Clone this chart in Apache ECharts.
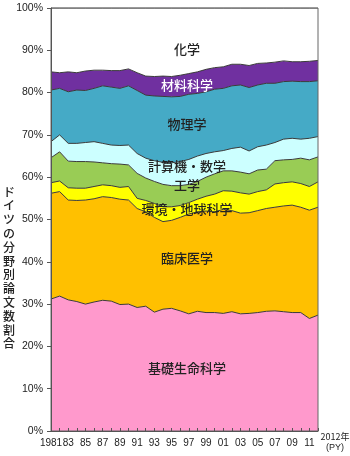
<!DOCTYPE html>
<html>
<head>
<meta charset="utf-8">
<script src="https://cdn.jsdelivr.net/npm/echarts@6/dist/echarts.min.js"></script>
<style>
  html, body { margin: 0; padding: 0; background: #fff; }
  #chart { width: 350px; height: 456px; }
</style>
</head>
<body>
<div id="chart"></div>
<script>
// Publication years (PY)
const years = ['1981','1982','1983','1984','1985','1986','1987','1988','1989','1990',
               '1991','1992','1993','1994','1995','1996','1997','1998','1999','2000',
               '2001','2002','2003','2004','2005','2006','2007','2008','2009','2010',
               '2011','2012'];

// Field shares of German papers (%), stacked from the bottom up
const basicLife   = [31.2,31.9,31.0,30.6,30.0,30.5,30.9,30.7,29.9,30.0,29.2,29.5,28.1,28.8,29.0,28.4,27.7,28.3,28.0,28.0,27.8,28.2,27.7,27.8,28.0,28.3,28.4,28.2,28.0,28.0,26.6,27.4];
const clinical    = [25.0,24.7,23.6,23.9,24.6,24.4,24.5,24.5,24.9,24.6,23.4,22.3,22.4,20.7,20.8,22.1,23.6,23.5,24.0,23.8,24.6,23.9,23.8,23.8,24.1,24.3,24.5,25.0,25.4,24.9,25.6,25.5];
const envEarth    = [2.5,2.5,2.9,2.9,2.8,2.9,2.8,2.8,2.8,3.2,2.4,2.7,3.3,3.5,3.2,2.8,2.7,3.0,3.5,4.2,4.4,4.6,4.8,4.4,4.5,4.4,5.5,5.5,5.5,5.6,5.6,6.0];
const engineering = [5.9,6.9,6.3,6.3,6.3,5.8,5.2,5.2,5.5,5.1,5.9,5.3,5.2,5.3,5.0,4.7,4.3,4.2,4.5,4.8,4.7,4.8,4.9,4.8,5.1,4.9,5.5,5.4,5.3,6.0,6.3,5.9];
const compMath    = [3.8,4.0,4.2,4.3,4.5,4.8,4.6,4.4,4.4,4.7,4.7,4.7,4.9,5.2,5.4,5.7,5.9,6.0,5.6,5.2,4.8,5.3,5.9,5.4,5.5,5.7,4.3,4.9,5.0,4.5,5.1,4.8];
const physics     = [12.2,11.0,12.2,12.6,12.3,12.6,13.6,13.7,13.5,14.0,14.9,14.9,15.3,15.6,15.6,15.4,15.4,14.8,14.6,14.8,14.7,14.8,14.7,15.0,14.6,14.6,14.0,13.6,13.5,13.6,13.4,13.2];
const materials   = [4.3,3.7,4.7,4.1,4.6,4.3,3.7,3.9,4.2,4.0,4.2,4.5,4.6,4.8,4.8,5.0,4.9,5.1,5.3,5.1,5.1,5.1,4.9,5.2,5.1,4.8,5.0,4.9,4.6,4.7,4.8,4.8];
const chemistry   = [15.1,15.3,15.1,15.3,14.9,14.7,14.7,14.8,14.8,14.4,15.3,16.1,16.2,16.1,16.2,15.9,15.5,15.1,14.5,14.1,13.9,13.3,13.3,13.6,13.1,13.0,12.8,12.5,12.7,12.7,12.6,12.4];

const fieldNames  = ['基礎生命科学','臨床医学','環境・地球科学','工学','計算機・数学','物理学','材料科学','化学'];
const fieldData   = [basicLife, clinical, envEarth, engineering, compMath, physics, materials, chemistry];
const fieldColors = ['#ff99cc','#ffc000','#ffff00','#99cc55','#ccffff','#45aac6','#7030a0','#ffffff'];
const labelColors = ['#222','#222','#222','#222','#222','#222','#ffffff','#222'];

const chart = echarts.init(document.getElementById('chart'), null, { renderer: 'canvas' });

const series = fieldNames.map((name, i) => ({
  name: name,
  type: 'line',
  stack: 'share',
  data: fieldData[i],
  symbol: 'none',
  smooth: false,
  lineStyle: { color: '#3a3a3a', width: 1 },
  areaStyle: { color: fieldColors[i], opacity: 1 },
  itemStyle: { color: fieldColors[i] },
  z: 2
}));

// in-band field labels
const bandLabels = [
  { text: '化学',           x: 187, y: 49 },
  { text: '材料科学',       x: 187, y: 85 },
  { text: '物理学',         x: 187, y: 124 },
  { text: '計算機・数学',   x: 187, y: 166 },
  { text: '工学',           x: 187, y: 185 },
  { text: '環境・地球科学', x: 187, y: 209 },
  { text: '臨床医学',       x: 187, y: 258 },
  { text: '基礎生命科学',   x: 187, y: 368 }
];
const labelColorByName = {};
fieldNames.forEach((n, i) => { labelColorByName[n] = labelColors[i]; });

const graphics = bandLabels.map(l => ({
  type: 'text',
  x: l.x, y: l.y,
  z: 100,
  style: {
    text: l.text,
    fill: labelColorByName[l.text],
    font: '500 13px "Noto Sans CJK JP", sans-serif',
    align: 'center',
    verticalAlign: 'middle'
  }
}));

// vertical y-axis title
graphics.push({
  type: 'text',
  x: 9, y: 268, z: 100,
  style: {
    text: 'ドイツの分野別論文数割合'.split('').join('\n'),
    fill: '#222',
    font: '500 12px "Noto Sans CJK JP", sans-serif',
    lineHeight: 13.8,
    align: 'center',
    verticalAlign: 'middle'
  }
});

// x-axis end caption
graphics.push({
  type: 'text',
  x: 335, y: 437, z: 100,
  style: {
    text: '2012年',
    fill: '#222',
    font: '9px "Noto Sans CJK JP", sans-serif',
    align: 'center',
    verticalAlign: 'middle'
  }
});
graphics.push({
  type: 'text',
  x: 335, y: 448, z: 100,
  style: {
    text: '(PY)',
    fill: '#222',
    font: '9px Arial, "Liberation Sans", sans-serif',
    align: 'center',
    verticalAlign: 'middle'
  }
});

chart.setOption({
  animation: false,
  backgroundColor: '#ffffff',
  grid: {
    left: 51, right: 32, top: 8, bottom: 25,
    containLabel: false,
    show: true,
    borderColor: '#666',
    borderWidth: 1,
    backgroundColor: 'transparent',
    z: 3
  },
  xAxis: {
    type: 'category',
    data: years,
    boundaryGap: false,
    axisLine: { show: true, lineStyle: { color: '#555', width: 1 } },
    axisTick: { show: true, inside: true, length: 3, interval: 0, lineStyle: { color: '#555' } },
    axisLabel: {
      interval: 1,
      showMinLabel: true,
      hideOverlap: false,
      margin: 7,
      color: '#222',
      fontSize: 10,
      fontFamily: 'Arial, "Liberation Sans", sans-serif',
      formatter: (v, idx) => idx === 0 ? v : v.slice(2)
    },
    splitLine: { show: false },
    z: 10
  },
  yAxis: {
    type: 'value',
    min: 0, max: 100, interval: 10,
    axisLine: { show: true, lineStyle: { color: '#555', width: 1 } },
    axisTick: { show: true, inside: false, length: 4, lineStyle: { color: '#555' } },
    axisLabel: {
      margin: 8,
      color: '#222',
      fontSize: 10.5,
      fontFamily: 'Arial, "Liberation Sans", sans-serif',
      formatter: '{value}%'
    },
    splitLine: { show: false },
    z: 10
  },
  series: series,
  graphic: graphics
});
</script>
</body>
</html>
